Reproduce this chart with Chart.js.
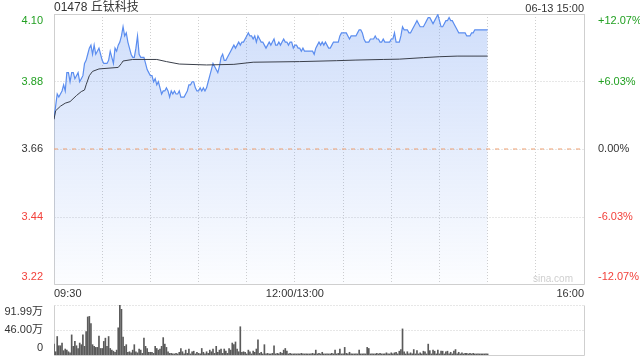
<!DOCTYPE html>
<html>
<head>
<meta charset="utf-8">
<script src="https://cdn.jsdelivr.net/npm/chart.js@4.4.1/dist/chart.umd.min.js"></script>
<style>
  html, body { margin: 0; padding: 0; background: #fff; }
  body { width: 640px; height: 360px; position: relative; overflow: hidden; font-family: 'Liberation Sans', Arial, 'Noto Sans CJK SC', sans-serif; color: #333; }
  canvas { position: absolute; left: 0; }
  #price { top: 0; }
  #volume { top: 300px; }
  .txt { position: absolute; white-space: nowrap; }
  #title { left: 54px; top: 0; font-size: 12px; line-height: 15px; }
  #stamp { right: 56px; top: 1px; font-size: 11px; line-height: 14px; }
  #mark { left: 533px; top: 272px; font-size: 10px; line-height: 13px; color: #cfcfcf; }
</style>
</head>
<body>
<canvas id="price" width="640" height="300"></canvas>
<canvas id="volume" width="640" height="60"></canvas>
<div class="txt" id="title"></div>
<div class="txt" id="stamp"></div>
<div class="txt" id="mark"></div>
<script>
const title = '01478 丘钛科技'
const stamp = '06-13 15:00'
const watermark = 'sina.com'

const prevClose = 3.66
const pctRange = 12.07
const priceTickLabels = ['3.22', '3.44', '3.66', '3.88', '4.10']
const pctTickLabels = ['-12.07%', '-6.03%', '0.00%', '+6.03%', '+12.07%']

// minutes since 09:30, lunch break folded out (12:00/13:00 = 150)
const sessionMinutes = 330
const xTickMinutes = [0, 150, 330]
const xTickLabels = ['09:30', '12:00/13:00', '16:00']

// one price per minute, 09:30 .. 15:00
const prices = [
  3.76, 3.80, 3.84, 3.83, 3.84, 3.85, 3.87, 3.85, 3.91, 3.91,
  3.88, 3.91, 3.91, 3.89, 3.90, 3.91, 3.88, 3.89, 3.90, 3.94,
  3.95, 3.97, 3.99, 4.00, 3.97, 4.00, 3.97, 3.98, 3.99, 3.97,
  3.95, 3.94, 3.94, 3.94, 3.95, 3.98, 3.96, 3.94, 3.99, 3.98,
  4.00, 4.01, 4.03, 4.06, 4.03, 4.04, 4.01, 3.99, 3.97, 3.96,
  3.96, 3.99, 4.03, 3.97, 3.96, 3.96, 3.96, 3.94, 3.92, 3.91,
  3.90, 3.90, 3.88, 3.89, 3.87, 3.88, 3.86, 3.84, 3.85, 3.85,
  3.86, 3.85, 3.83, 3.85, 3.84, 3.85, 3.84, 3.84, 3.85, 3.83,
  3.83, 3.83, 3.84, 3.85, 3.87, 3.87, 3.88, 3.88, 3.86, 3.85,
  3.85, 3.86, 3.85, 3.86, 3.85, 3.86, 3.88, 3.90, 3.92, 3.94,
  3.93, 3.92, 3.91, 3.93, 3.96, 3.97, 3.95, 3.95, 3.96, 3.97,
  3.98, 3.99, 4.00, 3.99, 4.00, 4.01, 4.00, 4.01, 4.01, 4.02,
  4.03, 4.04, 4.03, 4.03, 4.02, 4.03, 4.01, 4.03, 4.02, 4.01,
  4.01, 4.00, 3.99, 4.00, 4.01, 4.00, 4.01, 4.02, 4.00, 4.00,
  4.01, 4.00, 4.01, 4.02, 4.01, 4.01, 4.00, 4.01, 4.01, 3.99,
  4.00, 4.00, 3.99, 3.99, 3.98, 3.99, 3.98, 3.98, 3.98, 3.98,
  3.98, 3.98, 3.97, 3.99, 4.00, 4.01, 4.00, 4.01, 4.00, 4.01,
  4.00, 3.99, 3.99, 4.00, 4.01, 4.01, 4.01, 4.01, 4.03, 4.04,
  4.04, 4.04, 4.04, 4.03, 4.02, 4.03, 4.03, 4.03, 4.03, 4.04,
  4.05, 4.05, 4.04, 4.02, 4.01, 4.01, 4.01, 4.02, 4.02, 4.02,
  4.03, 4.02, 4.02, 4.01, 4.01, 4.02, 4.01, 4.01, 4.01, 4.01,
  4.02, 4.02, 4.04, 4.01, 4.01, 4.01, 4.03, 4.06, 4.05, 4.05,
  4.05, 4.04, 4.04, 4.05, 4.06, 4.07, 4.08, 4.07, 4.06, 4.06,
  4.06, 4.07, 4.08, 4.09, 4.09, 4.08, 4.07, 4.08, 4.09, 4.10,
  4.08, 4.06, 4.06, 4.07, 4.08, 4.08, 4.09, 4.08, 4.08, 4.07,
  4.06, 4.05, 4.04, 4.04, 4.04, 4.04, 4.04, 4.03, 4.03, 4.03,
  4.04, 4.04, 4.05, 4.05, 4.05, 4.05, 4.05, 4.05, 4.05, 4.05,
  4.05
]

// average price line, read at its bends
const avgMinutes = [0, 1, 4, 7, 10, 14, 17, 19, 20, 22, 24, 28, 40, 42, 43, 49, 64, 70, 78, 95, 112, 124, 153, 176, 188, 205, 215, 230, 240, 251, 270]
const avgPrices = [3.757, 3.785, 3.80, 3.81, 3.815, 3.835, 3.848, 3.853, 3.87, 3.90, 3.914, 3.922, 3.927, 3.94, 3.948, 3.953, 3.953, 3.946, 3.938, 3.935, 3.937, 3.944, 3.946, 3.949, 3.951, 3.953, 3.954, 3.959, 3.962, 3.964, 3.964]

// volume per minute, in 万 shares
const volumes = [
  20, 6, 34, 17, 17, 22, 8, 11, 9, 6,
  4, 37, 16, 25, 17, 12, 22, 19, 37, 16,
  43, 70, 71, 58, 19, 16, 14, 14, 35, 12,
  12, 25, 31, 16, 34, 12, 9, 7, 5, 9,
  50, 91.99, 84, 33, 16, 19, 5, 6, 4, 9,
  19, 6, 4, 11, 9, 3, 31, 16, 12, 5,
  5, 5, 3, 16, 12, 9, 11, 16, 32, 20,
  14, 6, 3, 3, 2, 2, 3, 2, 5, 12,
  6, 2, 9, 3, 11, 2, 6, 7, 2, 5,
  3, 2, 12, 5, 2, 6, 3, 9, 6, 11,
  3, 16, 5, 9, 11, 3, 11, 7, 3, 12,
  9, 22, 19, 24, 11, 6, 52, 5, 6, 5,
  2, 9, 6, 2, 7, 5, 11, 28, 3, 5,
  2, 19, 2, 3, 2, 2, 3, 17, 2, 3,
  2, 5, 3, 9, 12, 7, 2, 3, 2, 2,
  2, 2, 2, 2, 3, 2, 2, 2, 2, 2,
  2, 3, 2, 9, 2, 3, 2, 5, 2, 2,
  2, 2, 2, 3, 2, 9, 2, 3, 11, 2,
  2, 14, 3, 2, 5, 2, 2, 2, 2, 2,
  9, 2, 2, 2, 2, 14, 12, 2, 2, 2,
  2, 3, 2, 3, 2, 2, 2, 4, 2, 2,
  4, 2, 4, 5, 2, 7, 10, 48, 6, 2,
  6, 2, 4, 2, 10, 2, 8, 2, 4, 2,
  7, 6, 2, 20, 8, 2, 9, 7, 2, 9,
  2, 7, 7, 2, 6, 7, 2, 5, 2, 7,
  10, 2, 5, 2, 4, 2, 3, 3, 2, 3,
  2, 3, 2, 2, 2, 2, 2, 2, 2, 2,
  2
]
const volTicks = [0, 46.00, 91.99]
const volTickLabels = ['0', '46.00万', '91.99万']

const GREEN = '#22a022'
const RED = '#f2413b'
const GRID = '#cfcfcf'

document.getElementById('title').textContent = title
document.getElementById('stamp').textContent = stamp
document.getElementById('mark').textContent = watermark

Chart.defaults.font.family = "'Liberation Sans', Arial, 'Noto Sans CJK SC', sans-serif"
Chart.defaults.font.size = 11
Chart.defaults.color = '#333'

const priceMin = prevClose * (1 - pctRange / 100)
const priceMax = prevClose * (1 + pctRange / 100)
const priceTicks = priceTickLabels.map((_, i) => priceMin + i * (priceMax - priceMin) / (priceTickLabels.length - 1))
const tickColors = [RED, RED, '#333', GREEN, GREEN]

// push first/last label inside the box, like the original
const edge = (label, i, n) => i === 0 ? [label, ''] : (i === n - 1 ? ['', label] : label)

// dotted horizontal grid + solid box
const frame = {
  id: 'frame',
  beforeDatasetsDraw (chart, args, opts) {
    const { ctx, chartArea: a } = chart
    const l = Math.round(a.left) + 0.5
    const r = Math.round(a.right) + 0.5
    const t = Math.round(a.top) + 0.5
    const b = Math.round(a.bottom) + 0.5
    const ys = chart.scales.y
    ctx.save()
    ctx.strokeStyle = GRID
    ctx.lineWidth = 1
    ctx.setLineDash([1, 2])
    ctx.beginPath()
    ys.ticks.forEach(tk => {
      const y = Math.round(ys.getPixelForValue(tk.value)) + 0.5
      ctx.moveTo(l, y)
      ctx.lineTo(r, y)
    })
    ctx.stroke()
    ctx.setLineDash([])
    const sides = opts.sides || []
    ctx.beginPath()
    if (sides.includes('top')) { ctx.moveTo(l, t); ctx.lineTo(r, t) }
    if (sides.includes('bottom')) { ctx.moveTo(l, b); ctx.lineTo(r, b) }
    if (sides.includes('left')) { ctx.moveTo(l, t); ctx.lineTo(l, b) }
    if (sides.includes('right')) { ctx.moveTo(r, t); ctx.lineTo(r, b) }
    ctx.stroke()
    ctx.restore()
  }
}

const fitY = w => s => { s.width = w; s.paddingTop = 0; s.paddingBottom = 0 }

new Chart(document.getElementById('price'), {
  type: 'line',
  data: {
    datasets: [
      {
        data: [{ x: 0, y: prevClose }, { x: sessionMinutes, y: prevClose }],
        borderColor: '#f0a070',
        borderWidth: 1,
        borderDash: [4, 5],
        pointRadius: 0,
        fill: false
      },
      {
        data: avgMinutes.map((m, i) => ({ x: m, y: avgPrices[i] })),
        borderColor: '#3a3f4a',
        borderWidth: 1,
        pointRadius: 0,
        fill: false
      },
      {
        data: prices.map((p, i) => ({ x: i, y: p })),
        borderColor: '#5b8def',
        borderWidth: 1.2,
        pointRadius: 0,
        fill: 'start',
        backgroundColor: ctx => {
          const a = ctx.chart.chartArea
          if (!a) return 'rgba(91,141,239,0.15)'
          const g = ctx.chart.ctx.createLinearGradient(0, a.top, 0, a.bottom)
          g.addColorStop(0, 'rgba(91,141,239,0.29)')
          g.addColorStop(1, 'rgba(91,141,239,0.02)')
          return g
        }
      }
    ]
  },
  options: {
    responsive: false,
    animation: false,
    events: [],
    layout: { padding: { top: 14, left: 0, right: 0, bottom: 0 } },
    plugins: { legend: { display: false }, tooltip: { enabled: false }, frame: { sides: ['top', 'right', 'bottom', 'left'] } },
    scales: {
      x: {
        type: 'linear',
        min: 0,
        max: sessionMinutes,
        offset: false,
        afterFit: s => { s.height = 16 },
        grid: { color: GRID, drawTicks: false },
        border: { display: false, dash: [1, 2] },
        ticks: {
          stepSize: 30,
          autoSkip: false,
          maxRotation: 0,
          minRotation: 0,
          align: 'inner',
          padding: 3,
          color: '#333',
          callback: v => {
            const i = xTickMinutes.indexOf(v)
            return i >= 0 ? xTickLabels[i] : ''
          }
        }
      },
      y: {
        position: 'left',
        min: priceMin,
        max: priceMax,
        afterBuildTicks: s => { s.ticks = priceTicks.map(v => ({ value: v })) },
        afterFit: fitY(54),
        grid: { display: false },
        border: { display: false },
        ticks: {
          autoSkip: false,
          padding: 3,
          color: ctx => tickColors[ctx.index],
          callback: (v, i, t) => edge(priceTickLabels[i], i, t.length)
        }
      },
      y2: {
        position: 'right',
        min: priceMin,
        max: priceMax,
        afterBuildTicks: s => { s.ticks = priceTicks.map(v => ({ value: v })) },
        afterFit: fitY(56),
        grid: { display: false },
        border: { display: false },
        ticks: {
          autoSkip: false,
          padding: 6,
          color: ctx => tickColors[ctx.index],
          callback: (v, i, t) => edge(pctTickLabels[i], i, t.length)
        }
      }
    }
  },
  plugins: [frame]
})

new Chart(document.getElementById('volume'), {
  type: 'bar',
  data: {
    datasets: [{
      data: volumes.map((v, i) => ({ x: i, y: v })),
      backgroundColor: '#5a5a5a',
      borderWidth: 0,
      barThickness: 1
    }]
  },
  options: {
    responsive: false,
    animation: false,
    events: [],
    layout: { padding: { top: 5, left: 0, right: 56, bottom: 5 } },
    plugins: { legend: { display: false }, tooltip: { enabled: false }, frame: { sides: ['right', 'bottom', 'left'] } },
    scales: {
      x: {
        type: 'linear',
        min: 0,
        max: sessionMinutes,
        offset: false,
        display: false
      },
      y: {
        position: 'left',
        min: 0,
        max: volTicks[volTicks.length - 1],
        afterBuildTicks: s => { s.ticks = volTicks.map(v => ({ value: v })) },
        afterFit: fitY(54),
        grid: { display: false },
        border: { display: false },
        ticks: {
          autoSkip: false,
          padding: 3,
          color: '#333',
          callback: (v, i, t) => edge(volTickLabels[i], i, t.length)
        }
      }
    }
  },
  plugins: [frame]
})
</script>
</body>
</html>
